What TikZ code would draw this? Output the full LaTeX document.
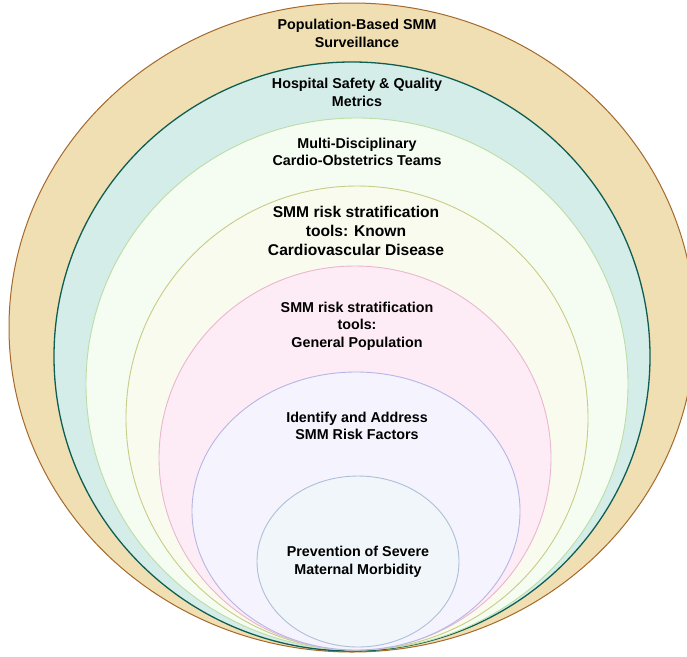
\documentclass[tikz,border=0pt]{standalone}
\usepackage{fontspec}
\setmainfont{Liberation Sans}
\definecolor{tanfill}{HTML}{F0DFB2}
\definecolor{tanline}{HTML}{A5692C}
\definecolor{tealfill}{HTML}{D4EDE8}
\definecolor{tealline}{HTML}{0F5E54}
\definecolor{greenfill}{HTML}{F5FCF2}
\definecolor{greenline}{HTML}{BCDDA6}
\definecolor{olivefill}{HTML}{FAFBEF}
\definecolor{oliveline}{HTML}{C6CD84}
\definecolor{pinkfill}{HTML}{FDECF5}
\definecolor{pinkline}{HTML}{E9B7CE}
\definecolor{lavfill}{HTML}{F5F3FD}
\definecolor{lavline}{HTML}{B5B6E5}
\definecolor{innfill}{HTML}{F0F6FA}
\definecolor{innline}{HTML}{AFBFD8}
\tikzset{
  lbl/.style={align=center, font=\bfseries\fontsize{14.3}{17.5}\selectfont, text=black, inner sep=0pt},
  lblbig/.style={align=center, font=\bfseries\fontsize{15.6}{19}\selectfont, text=black, inner sep=0pt},
}
\begin{document}
\begin{tikzpicture}[x=1pt,y=-1pt]
\useasboundingbox (0,0) rectangle (687,656);
\clip (0,0) rectangle (687,656);
\fill[white] (0,0) rectangle (687,656);
\draw[fill=tanfill, draw=tanline, line width=1pt] (352,327.5) ellipse [x radius=343pt, y radius=324.5pt];
\draw[fill=tealfill, draw=tealline, line width=1.3pt] (352,356.5) ellipse [x radius=298pt, y radius=294.5pt];
\draw[fill=greenfill, draw=greenline, line width=0.9pt] (357,384) ellipse [x radius=271pt, y radius=266pt];
\draw[fill=olivefill, draw=oliveline, line width=0.9pt] (357,418) ellipse [x radius=231pt, y radius=232pt];
\draw[fill=pinkfill, draw=pinkline, line width=0.9pt] (355,458) ellipse [x radius=196pt, y radius=192pt];
\draw[fill=lavfill, draw=lavline, line width=0.9pt] (356,511) ellipse [x radius=164pt, y radius=139pt];
\draw[fill=innfill, draw=innline, line width=0.9pt] (358,561.5) ellipse [x radius=101pt, y radius=85.5pt];
\node[lbl] (t1) at (357,33.5) {Population-Based SMM\\Surveillance};
\node[lbl] (t2) at (357,92.5) {Hospital Safety \& Quality\\Metrics};
\node[lbl] (t3) at (357,152) {Multi-Disciplinary\\Cardio-Obstetrics Teams};
\node[lblbig] (t4) at (356,231) {SMM risk stratification\\tools: Known\\Cardiovascular Disease};
\node[lbl] (t5) at (357,326) {SMM risk stratification\\tools:\\General Population};
\node[lbl] (t6) at (357,426) {Identify and Address\\SMM Risk Factors};
\node[lbl] (t7) at (358,562) {Prevention of Severe\\Maternal Morbidity};
\end{tikzpicture}
\end{document}
